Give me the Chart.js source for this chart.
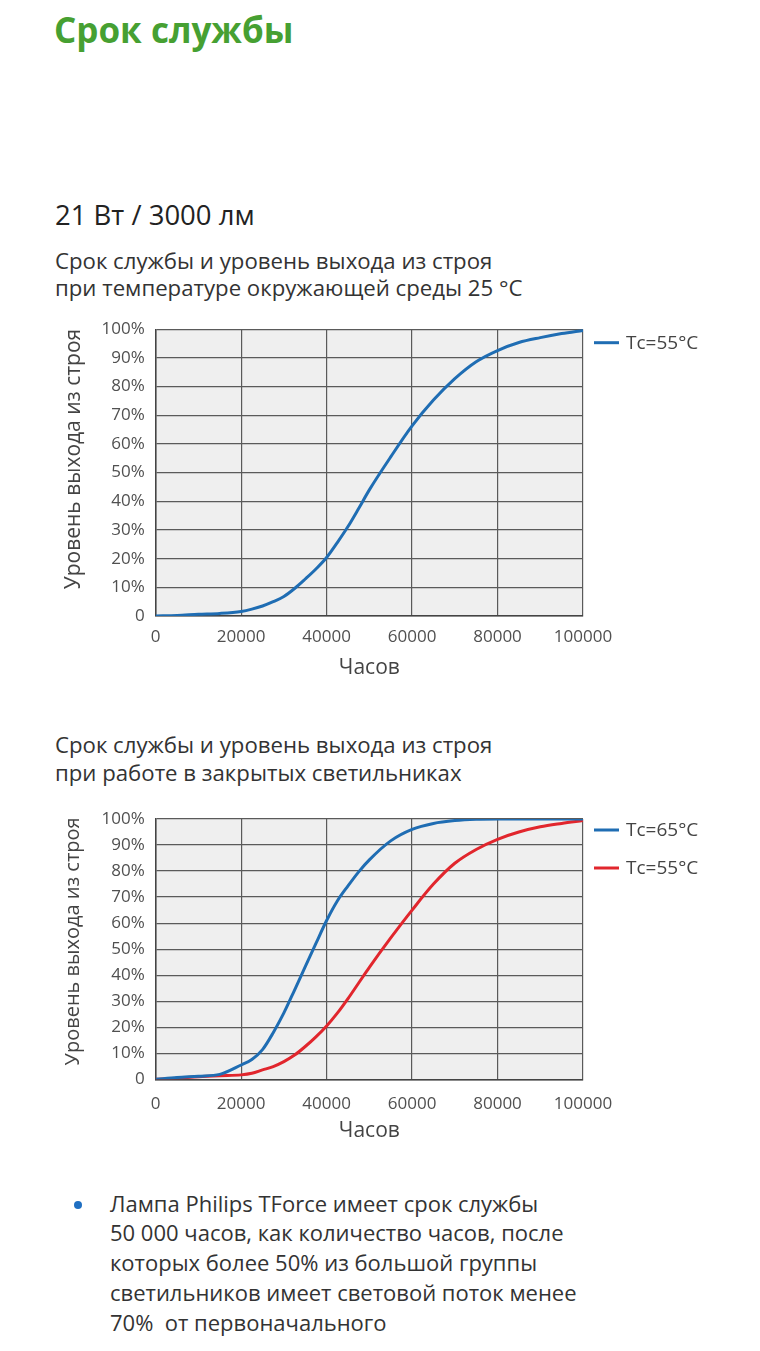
<!DOCTYPE html>
<html lang="ru">
<head>
<meta charset="utf-8">
<title>Срок службы</title>
<script src="https://cdn.jsdelivr.net/npm/chart.js@4.4.1/dist/chart.umd.min.js"></script>
<style>
  html, body { margin: 0; padding: 0; background: #fff; }
  body { width: 760px; height: 1351px; position: relative; overflow: hidden; font-family: "Open Sans", sans-serif; color: #333; }
  .txt { position: absolute; margin: 0; white-space: nowrap; }
  #title { left: 54px; top: 12.2px; font-size: 35px; line-height: 35px; font-weight: 700; color: #46a032; }
  #model { left: 55px; top: 201.3px; font-size: 27.5px; line-height: 27.5px; color: #222; }
  .sub { left: 55px; font-size: 22.2px; line-height: 27.4px; color: #333; }
  #note { left: 110px; top: 1188.6px; font-size: 22px; line-height: 29.8px; color: #333; }
  #dot { position: absolute; left: 73.5px; top: 1201px; width: 8px; height: 8px; border-radius: 50%; background: #1f6fc2; }
  canvas { position: absolute; left: 40px; }
  #chart1 { top: 312px; }
  #chart2 { top: 802px; }
</style>
</head>
<body>
<h1 class="txt" id="title">Срок службы</h1>
<div class="txt" id="model">21 Вт / 3000 лм</div>
<div class="txt sub" style="top: 247px;">Срок службы и уровень выхода из строя<br>при температуре окружающей среды 25 °C</div>
<canvas id="chart1" width="680" height="372"></canvas>
<div class="txt sub" style="top: 731.2px;">Срок службы и уровень выхода из строя<br>при работе в закрытых светильниках</div>
<canvas id="chart2" width="680" height="346"></canvas>
<div id="dot"></div>
<div class="txt" id="note">Лампа Philips TForce имеет срок службы<br>50 000 часов, как количество часов, после<br>которых более 50% из большой группы<br>светильников имеет световой поток менее<br>70%&nbsp; от первоначального</div>

<script>
// hours of operation, shared by all curves
const hours = [0, 5000, 10000, 15000, 20000, 22500, 25000, 27500, 30000, 32500, 35000,
               37500, 40000, 42500, 45000, 47500, 50000, 55000, 60000, 65000, 70000,
               75000, 80000, 85000, 90000, 95000, 100000];

// failure rate, % (ambient 25 °C)
const ambientTc55 = [0, 0.2, 0.6, 0.9, 1.6, 2.4, 3.5, 5.0, 6.8, 9.6, 12.9,
                     16.4, 20.4, 25.6, 31.2, 37.5, 44, 55.5, 66.3, 75.3, 82.8,
                     88.7, 92.6, 95.4, 97.1, 98.5, 99.6];

// failure rate, % (closed luminaires)
const closedTc65 = [0, 0.7, 1.2, 1.9, 5.5, 7.6, 11.4, 17.9, 25.5, 34.3, 43.3,
                    52.2, 61, 68.5, 74.3, 79.7, 84.3, 91.6, 96, 98.3, 99.4,
                    99.9, 100, 100, 100, 100, 100];
const closedTc55 = [0, 0.4, 1.0, 1.4, 1.7, 2.3, 3.6, 4.9, 6.8, 9.3, 12.6,
                    16.3, 20.5, 25.4, 31, 37, 43, 54.3, 65, 75, 83,
                    88.3, 92.2, 95, 97, 98.3, 99.4];

const yTickLabels = ['0', '10%', '20%', '30%', '40%', '50%', '60%', '70%', '80%', '90%', '100%'];
const xTickLabels = ['0', '20000', '40000', '60000', '80000', '100000'];

const BLUE = '#1f6db3';
const RED = '#e1262d';

function points(values) {
    return hours.map((h, i) => ({ x: h, y: values[i] }));
}

// grey fill behind the plot
const plotBackground = {
    id: 'plotBackground',
    beforeDraw(chart) {
        const { ctx, chartArea: a } = chart;
        ctx.save();
        ctx.fillStyle = '#efefef';
        ctx.fillRect(a.left, a.top, a.width, a.height);
        ctx.restore();
    }
};

// legend to the right of the plot, top aligned
const sideLegend = {
    id: 'sideLegend',
    afterDraw(chart, args, opts) {
        const { ctx, chartArea: a } = chart;
        chart.data.datasets.forEach((ds, i) => {
            const x = a.right + 11;
            const y = a.top + opts.top + i * opts.gap;
            ctx.save();
            ctx.strokeStyle = ds.borderColor;
            ctx.lineWidth = 3;
            ctx.beginPath();
            ctx.moveTo(x, y);
            ctx.lineTo(x + 25, y);
            ctx.stroke();
            ctx.fillStyle = '#444';
            ctx.font = '19px "Open Sans"';
            ctx.textBaseline = 'middle';
            ctx.fillText(ds.label, x + 32, y + 1);
            ctx.restore();
        });
    }
};

function chartOptions(cfg) {
    return {
        responsive: false,
        animation: false,
        layout: { padding: { left: 17, right: 137, top: cfg.padTop, bottom: cfg.padBottom } },
        plugins: {
            legend: { display: false },
            tooltip: { enabled: false },
            sideLegend: { top: cfg.legendTop, gap: 38 }
        },
        elements: {
            point: { radius: 0 },
            line: { borderWidth: 3, cubicInterpolationMode: 'monotone' }
        },
        scales: {
            x: {
                type: 'linear',
                min: 0,
                max: 100000,
                ticks: {
                    stepSize: 20000,
                    padding: 0,
                    color: '#505050',
                    font: { family: 'Open Sans', size: 17 },
                    callback: (v, i) => xTickLabels[i]
                },
                // invisible tick marks keep the labels off the plot
                grid: { color: '#5a5a5a', lineWidth: 1.2, tickLength: cfg.xPad, tickColor: 'transparent' },
                border: { color: '#444', width: 1.5 },
                title: {
                    display: true,
                    text: 'Часов',
                    color: '#444',
                    font: { family: 'Open Sans', size: 21 },
                    padding: { top: 0, bottom: 1.5 }
                },
                afterFit(scale) { scale.height = 66; }
            },
            y: {
                min: 0,
                max: 100,
                ticks: {
                    stepSize: 10,
                    padding: 0,
                    color: '#505050',
                    font: { family: 'Open Sans', size: 17 },
                    callback: (v, i) => yTickLabels[i]
                },
                grid: { color: '#5a5a5a', lineWidth: 1.2, tickLength: 11, tickColor: 'transparent' },
                border: { color: '#444', width: 1.5 },
                title: {
                    display: true,
                    // leading spaces lift the label a little above the axis centre, as in the original
                    text: cfg.yTitleLead + 'Уровень выхода из строя',
                    color: '#444',
                    font: { family: 'Open Sans', size: cfg.yTitleSize },
                    padding: { top: 4, bottom: 4 }
                },
                afterFit(scale) { scale.width = 98.7; }
            }
        }
    };
}

new Chart(document.getElementById('chart1'), {
    type: 'line',
    data: {
        datasets: [{
            label: 'Tc=55°C',
            data: points(ambientTc55),
            borderColor: BLUE,
            backgroundColor: BLUE
        }]
    },
    options: chartOptions({ padTop: 17.3, padBottom: 2, legendTop: 13.4, xPad: 11, yTitleSize: 21, yTitleLead: '     ' }),
    plugins: [plotBackground, sideLegend]
});

new Chart(document.getElementById('chart2'), {
    type: 'line',
    data: {
        datasets: [{
            label: 'Tc=65°C',
            data: points(closedTc65),
            borderColor: BLUE,
            backgroundColor: BLUE
        }, {
            label: 'Tc=55°C',
            data: points(closedTc55),
            borderColor: RED,
            backgroundColor: RED
        }]
    },
    options: chartOptions({ padTop: 17, padBottom: 2.7, legendTop: 11, xPad: 15, yTitleSize: 20, yTitleLead: '   ' }),
    plugins: [plotBackground, sideLegend]
});
</script>
</body>
</html>
